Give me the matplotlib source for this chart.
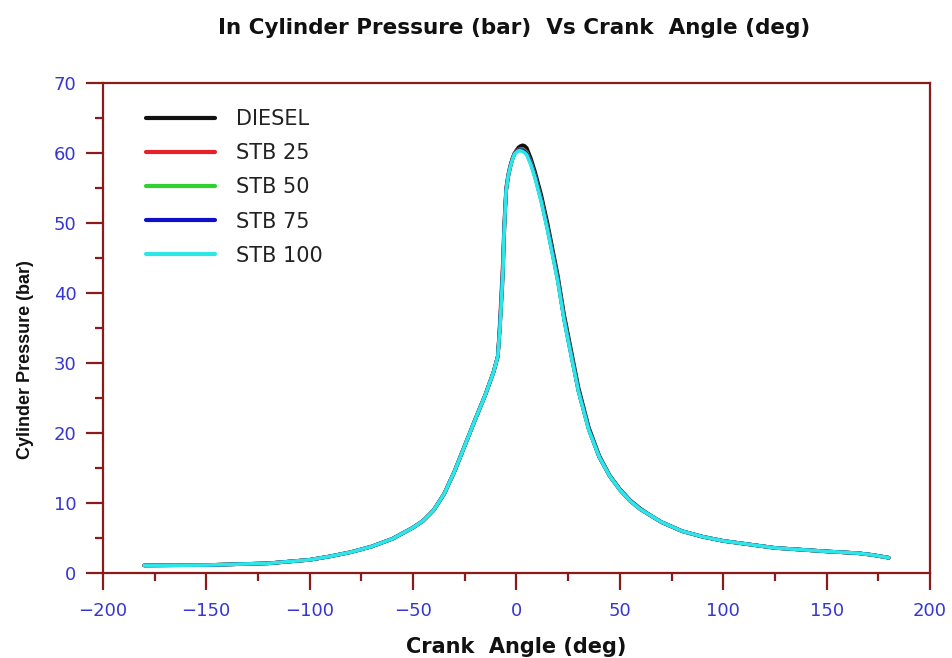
import matplotlib.pyplot as plt
from matplotlib.ticker import MultipleLocator

plt.rcParams["font.family"] = ["DejaVu Sans"]
plt.rcParams["axes.unicode_minus"] = True

# crank angle (deg) sample points
angulo = [-180, -150, -120, -100, -90, -80, -70, -60, -50, -45, -40, -35, -30, -25, -20, -15,
          -11, -9, -8, -7, -6.5, -6, -5, -4, -3, -2, -1, 0, 1, 2, 3, 4, 5, 7, 9, 12, 15, 18, 20,
          23, 26, 30, 35, 40, 45, 50, 55, 60, 65, 70, 80, 90, 100, 125, 150, 165, 172, 180]

diesel = [1.1, 1.15, 1.4, 1.9, 2.4, 3.0, 3.8, 4.9, 6.5, 7.5, 9.0, 11.3, 14.5, 18.2, 21.9, 25.5,
          28.8, 31.0, 35.0, 40.0, 43.0, 48.0, 54.5, 56.5, 58.0, 59.1, 59.9, 60.4, 60.8, 61.0, 61.1, 61.0, 60.7, 59.2, 57.3, 54.0, 50.0, 45.5, 42.5,
          37.0, 32.5, 26.5, 20.8, 16.8, 14.0, 12.0, 10.4, 9.2, 8.2, 7.3, 6.0, 5.2, 4.6, 3.6, 3.1, 2.85, 2.6, 2.2]

stb25 = [1.1, 1.15, 1.4, 1.9, 2.4, 3.0, 3.8, 4.9, 6.5, 7.5, 9.0, 11.3, 14.5, 18.2, 21.9, 25.5,
         28.8, 31.0, 36.0, 42.0, 45.0, 49.5, 55.0, 56.9, 58.2, 59.2, 59.9, 60.3, 60.5, 60.6, 60.6, 60.4, 60.1, 58.7, 56.8, 53.4, 49.4, 45.0, 42.0,
         36.5, 32.0, 26.0, 20.5, 16.6, 13.9, 11.9, 10.3, 9.1, 8.2, 7.3, 6.0, 5.2, 4.6, 3.6, 3.1, 2.85, 2.6, 2.2]

stb50 = [1.1, 1.15, 1.4, 1.9, 2.4, 3.0, 3.8, 4.9, 6.5, 7.5, 9.0, 11.3, 14.5, 18.2, 21.9, 25.5,
         28.8, 31.0, 35.5, 41.0, 44.0, 49.0, 54.8, 56.8, 58.1, 59.1, 59.9, 60.2, 60.4, 60.5, 60.5, 60.3, 60.0, 58.6, 56.7, 53.3, 49.3, 44.9, 41.9,
         36.4, 31.9, 26.0, 20.5, 16.6, 13.9, 11.9, 10.3, 9.1, 8.2, 7.3, 6.0, 5.2, 4.6, 3.6, 3.1, 2.85, 2.6, 2.2]

stb75 = [1.1, 1.15, 1.4, 1.9, 2.4, 3.0, 3.8, 4.9, 6.5, 7.5, 9.0, 11.3, 14.5, 18.2, 21.9, 25.5,
         28.8, 31.0, 35.5, 41.0, 44.0, 49.0, 54.8, 56.8, 58.1, 59.1, 59.9, 60.2, 60.4, 60.4, 60.4, 60.2, 59.9, 58.5, 56.6, 53.2, 49.2, 44.8, 41.8,
         36.3, 31.8, 26.0, 20.5, 16.6, 13.9, 11.9, 10.3, 9.1, 8.2, 7.3, 6.0, 5.2, 4.6, 3.6, 3.1, 2.85, 2.6, 2.2]

stb100 = [1.1, 1.15, 1.4, 1.9, 2.4, 3.0, 3.8, 4.9, 6.5, 7.5, 9.0, 11.3, 14.5, 18.2, 21.9, 25.5,
          28.8, 31.0, 35.0, 40.5, 43.5, 48.5, 54.6, 56.7, 58.0, 59.0, 59.8, 60.1, 60.3, 60.3, 60.2, 60.0, 59.7, 58.3, 56.4, 53.0, 49.0, 44.6, 41.6,
          36.2, 31.7, 25.9, 20.4, 16.6, 13.9, 11.9, 10.3, 9.1, 8.2, 7.3, 6.0, 5.2, 4.6, 3.6, 3.1, 2.85, 2.6, 2.2]

series = [("DIESEL", diesel, "#111111"),
          ("STB 25", stb25, "#e8202a"),
          ("STB 50", stb50, "#2ed12e"),
          ("STB 75", stb75, "#1010c8"),
          ("STB 100", stb100, "#2ee6e6")]

spine_color = "#8b1a1a"
tick_color = "#3636d4"

fig = plt.figure(figsize=(9.52, 6.58), dpi=100)
ax = fig.add_axes([0.108, 0.129, 0.869, 0.745])

for nome, valores, cor in series:
    ax.plot(angulo, valores, color=cor, linewidth=2.6, label=nome,
            solid_capstyle="round", solid_joinstyle="round")

ax.set_xlim(-200, 200)
ax.set_ylim(0, 70)
ax.xaxis.set_major_locator(MultipleLocator(50))
ax.xaxis.set_minor_locator(MultipleLocator(25))
ax.yaxis.set_major_locator(MultipleLocator(10))
ax.yaxis.set_minor_locator(MultipleLocator(5))

for s in ax.spines.values():
    s.set_color(spine_color)
    s.set_linewidth(1.6)

ax.tick_params(which="major", direction="out", length=12, width=1.6, color=spine_color,
               labelcolor=tick_color, labelsize=13)
ax.tick_params(axis="x", which="major", pad=9)
ax.tick_params(axis="y", which="major", pad=7)
ax.tick_params(which="minor", direction="out", length=6, width=1.6, color=spine_color)

fig.text(0.540, 0.958, "In Cylinder Pressure (bar)  Vs Crank  Angle (deg)",
         ha="center", va="center", fontsize=15.5, fontweight="bold", color="#111111")
ax.set_xlabel("Crank  Angle (deg)", fontsize=15, fontweight="bold", color="#111111", labelpad=12)
ax.set_ylabel("Cylinder Pressure (bar)", fontsize=13, fontweight="bold", color="#111111",
              family=["Liberation Sans", "DejaVu Sans"])
ax.yaxis.set_label_coords(-0.083, 0.435)

leg = ax.legend(loc="upper left", bbox_to_anchor=(0.03, 0.985), frameon=False,
                fontsize=15, handlelength=3.3, handletextpad=1.0, labelspacing=0.68)
for t in leg.get_texts():
    t.set_color("#222222")
for l in leg.get_lines():
    l.set_linewidth(3)

fig.savefig("out.png", dpi=100)
